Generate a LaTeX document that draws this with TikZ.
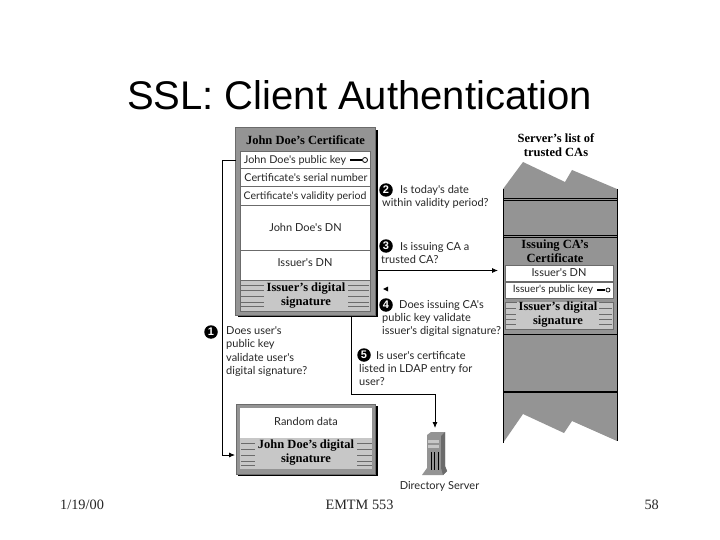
\documentclass[tikz,border=0pt]{standalone}
\usepackage{fontspec}
\setmainfont{Liberation Serif}
\newfontfamily\arialf{Liberation Sans}
\newfontfamily\labf{Lato}
\usetikzlibrary{arrows.meta}
\definecolor{cgray}{gray}{0.58}
\definecolor{sgray}{gray}{0.78}
\definecolor{lgray}{gray}{0.42}
\tikzset{
 x=1pt,y=-1pt,
 lab/.style={font=\labf\fontsize{11}{13.5}\selectfont,align=left,anchor=north west,inner sep=0pt,text=black!85},
 ctr/.style={font=\labf\fontsize{11}{13.5}\selectfont,align=center,inner sep=0pt,text=black!85},
 bld/.style={font=\rmfamily\bfseries\fontsize{12.5}{14}\selectfont,align=center,inner sep=0pt},
 num/.style={circle,fill=black,text=white,inner sep=0pt,minimum size=13.5pt,font=\arialf\bfseries\fontsize{11}{11}\selectfont},
 row/.style={draw=lgray,line width=.6pt,fill=white},
 wire/.style={draw=black,line width=.8pt},
 arr/.style={wire,-{Latex[length=6pt,width=5pt]}},
 foot/.style={font=\rmfamily\fontsize{14.3}{16}\selectfont,inner sep=0pt,text=black!85},
 sl/.style={draw=lgray,line width=.5pt},
 shadow/.style={fill=black}
}
\begin{document}
\begin{tikzpicture}
\useasboundingbox (0,0) rectangle (720,540);
\fill[white] (0,0) rectangle (720,540);
\node[font=\arialf\fontsize{40}{42}\selectfont,inner sep=0pt] (title) at (359.5,95) {SSL: Client Authentication};
% certificate
\fill[shadow] (238,130) rectangle (378,317);
\draw[draw=lgray,fill=cgray,line width=.8pt] (235.5,127) rectangle (375,315);
\node[bld] (certt) at (305.5,140.5) {John Doe's Certificate};
\draw[row] (240,151) rectangle (370,168);
\draw[row] (240,168) rectangle (370,186);
\draw[row] (240,186) rectangle (370,205);
\draw[row] (240,205) rectangle (370,250);
\draw[row] (240,250) rectangle (370,280);
\draw[draw=lgray,fill=sgray,line width=.6pt] (240,280) rectangle (370,311);
\foreach \yy in {285,290,296,302,306}{
 \draw[sl] (241,\yy) -- (264,\yy);
 \draw[sl] (347,\yy) -- (369,\yy);}
\node[ctr,font=\labf\fontsize{10.8}{12}\selectfont] (pk) at (295,160) {John Doe's public key};
\node[ctr,font=\labf\fontsize{10.8}{12}\selectfont] (sn) at (306,178) {Certificate's serial number};
\node[ctr,font=\labf\fontsize{10.5}{12}\selectfont] (vp) at (305,197) {Certificate's validity period};
\node[ctr] (dn) at (305.5,227) {John Doe's DN};
\node[ctr] (idn) at (305,263) {Issuer's DN};
\node[bld,fill=sgray,inner xsep=3pt] (sig) at (306,295.5) {Issuer's digital\\signature};
\draw[line width=1.2pt] (350,160) -- (362,160);
\draw[line width=.8pt] (365,160) circle (2.5);
% server list
\draw[fill=cgray,draw=none] (503,189) -- (523,162) -- (565,182) -- (572,170) -- (617,189) -- (617,441) -- (572,421) -- (564,433) -- (523,414) -- (503,443) -- cycle;
\draw[line width=.7pt] (503,189) -- (503,443) (617,189) -- (617,441);
\foreach \yy in {198,200,235,237,334}{\draw[line width=.6pt] (503,\yy) -- (617,\yy);}
\draw[line width=2.2pt] (503,392) -- (617,392);
\node[bld] (slt) at (556,145) {Server's list of\\trusted CAs};
\node[bld] (ict) at (555,251) {Issuing CA's\\Certificate};
\draw[row] (505,265) rectangle (613,281);
\draw[row] (505,282) rectangle (613,298);
\draw[draw=lgray,fill=sgray,line width=.6pt] (505,302) rectangle (613,329);
\foreach \yy in {308,314,319,324}{
 \draw[sl] (506,\yy) -- (516,\yy);
 \draw[sl] (599,\yy) -- (612,\yy);}
\node[ctr] (idn2) at (559,273) {Issuer's DN};
\node[ctr,font=\labf\fontsize{10.2}{11}\selectfont] (ipk) at (553,290) {Issuer's public key};
\draw[line width=1.1pt] (597,290) -- (605,290);
\draw[line width=.7pt] (608,290) circle (2);
\node[bld,fill=sgray,inner xsep=2pt] (sig2) at (558,315) {Issuer's digital\\signature};
% random data
\fill[shadow] (238,406) rectangle (378,476);
\draw[draw=lgray,fill=cgray,line width=.8pt] (236,404) rectangle (375,474);
\fill[white] (240,408) rectangle (372,438);
\fill[sgray] (240,438) rectangle (372,469);
\foreach \yy in {443,449,455,461,465}{
 \draw[sl] (241,\yy) -- (255,\yy);
 \draw[sl] (357,\yy) -- (372,\yy);}
\node[ctr] (rd) at (306,421) {Random data};
\node[bld,fill=sgray,inner xsep=2pt] (sig3) at (306,453) {John Doe's digital\\signature};
% server icon
\fill[cgray] (427,435) -- (431,432) -- (445,432) -- (445,466) -- (447,471) -- (443,475) -- (422,475) -- (427,468) -- cycle;
\fill[lgray] (441,436) -- (445,432) -- (445,466) -- (447,471) -- (443,475) -- (441,468) -- cycle;
\fill[sgray] (428,440) rectangle (439,443);
\fill[sgray] (428,445) rectangle (439,448);
\foreach \xx in {431,434.5,438}{\draw[line width=.5pt] (\xx,452) -- (\xx,470);}
\node (srv) at (435,453) [inner sep=0pt,minimum width=22pt,minimum height=44pt] {};
\node[ctr] (srvl) at (439.5,486) {Directory Server};
% labels
\node[num] (n1) at (211,332) {1};
\node[lab] (l1) at (226,326) {Does user's\\public key\\validate user's\\digital signature?};
\node[num] (n2) at (386,190) {2};
\node[lab] (l2a) at (400,185) {Is today's date};
\node[lab] (l2b) at (382,198) {within validity period?};
\node[num] (n3) at (386,246) {3};
\node[lab] (l3a) at (400,242) {Is issuing CA a};
\node[lab] (l3b) at (381,255) {trusted CA?};
\node[num] (n4) at (386,305) {4};
\node[lab] (l4a) at (399,300) {Does issuing CA's};
\node[lab] (l4b) at (382,313) {public key validate\\issuer's digital signature?};
\node[num] (n5) at (364,355) {5};
\node[lab] (l5a) at (376,351) {Is user's certificate};
\node[lab] (l5b) at (359,364) {listed in LDAP entry for\\user?};
% connectors
\coordinate (a) at (377,270.5);
\coordinate (b) at (498,270.5);
\draw[arr] (a) -- (b);
\coordinate (c1) at (235.5,160.5);
\coordinate (c2) at (222,160.5);
\coordinate (c3) at (222,455);
\coordinate (c4) at (235,455);
\draw[arr] (c1) -- (c2) -- (c3) -- (c4);
\coordinate (d1) at (351,317);
\coordinate (d2) at (351,394);
\coordinate (d3) at (435,394);
\coordinate (d4) at (435,428);
\draw[arr] (d1) -- (d2) -- (d3) -- (d4);
\coordinate (e) at (383,289);
\fill[black] (e) -- (388,286.5) -- (388,291.5) -- cycle;
% footer
\node[foot,anchor=west] (date) at (60,505) {1/19/00};
\node[foot] (mid) at (359.5,505) {EMTM 553};
\node[foot,anchor=east] (pg) at (659,505) {58};
\end{tikzpicture}
\end{document}
